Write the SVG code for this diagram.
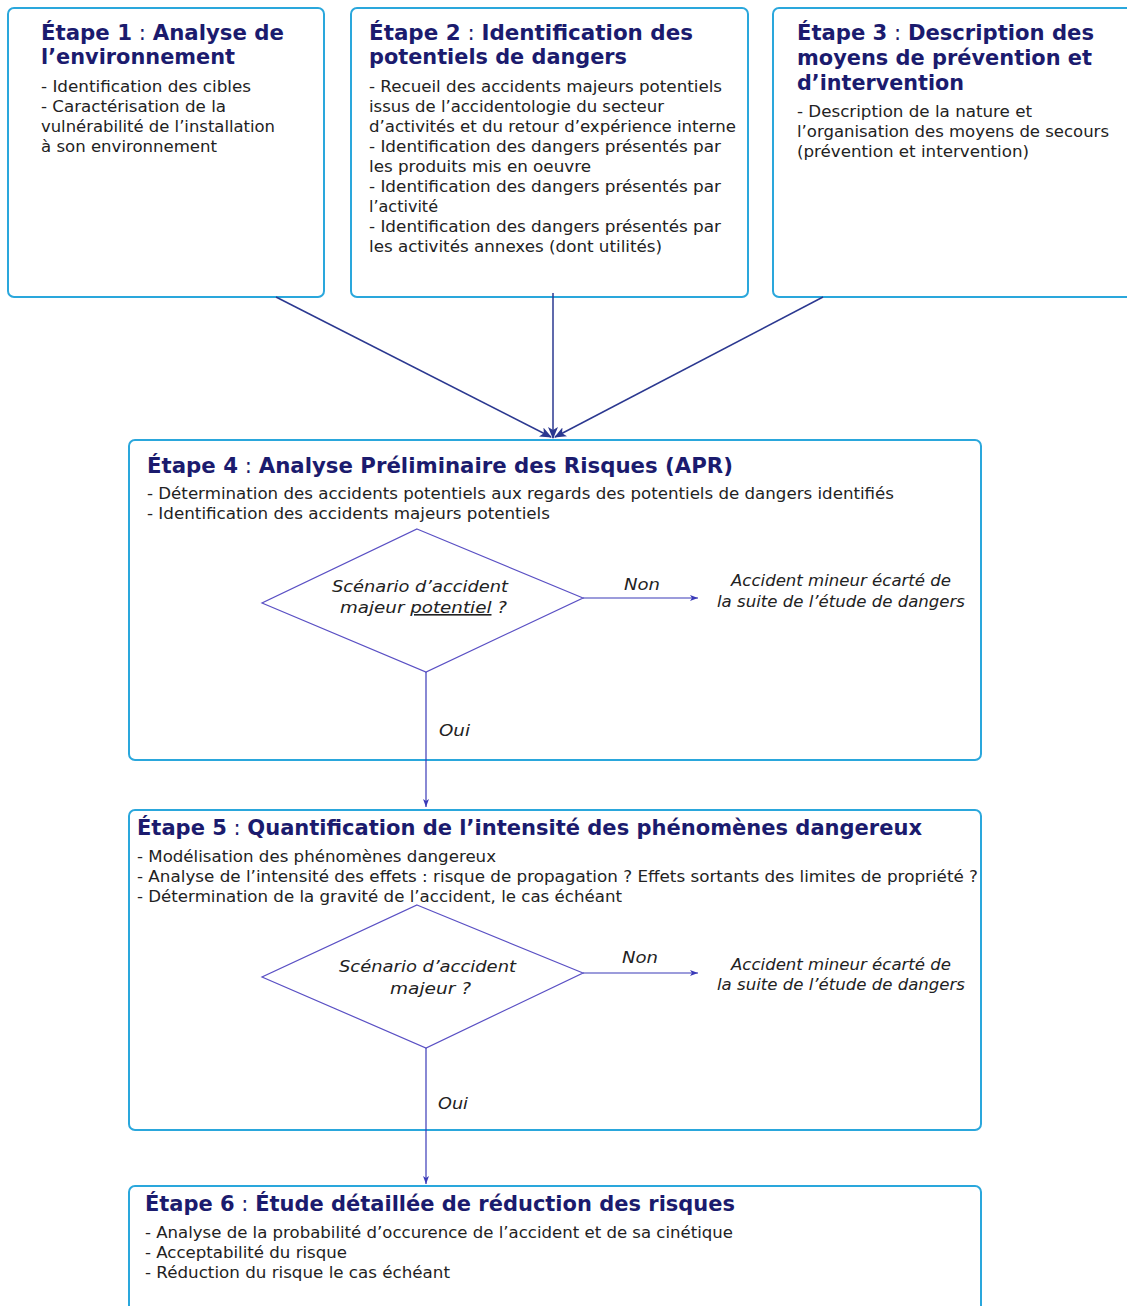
<svg xmlns="http://www.w3.org/2000/svg" width="1127" height="1306" viewBox="0 0 1127 1306">
<style>
.box{fill:#fff;stroke:#2aa7dc;stroke-width:2}
.t{font-family:"DejaVu Sans",Verdana,sans-serif;font-size:21px;font-weight:bold;fill:#1b1b6e}
.t .n{font-weight:normal}
.b{font-family:"DejaVu Sans",Verdana,sans-serif;font-size:16px;fill:#222}
.bc{font-size:16.5px}
.i{font-family:"DejaVu Sans",Verdana,sans-serif;font-size:16px;font-style:italic;fill:#222}
.dia{fill:none;stroke:#5a50c4;stroke-width:1.2}
.con{stroke:#2b3890;stroke-width:1.5;fill:none}
.con2{stroke:#3a3ab8;stroke-width:1.2;fill:none}
</style>
<defs>
<marker id="ah" viewBox="0 0 12 10" refX="11" refY="5" markerWidth="12" markerHeight="10" markerUnits="userSpaceOnUse" orient="auto">
<path d="M0,0 L12,5 L0,10 L3,5 z" fill="#2b3890"/>
</marker>
<marker id="sm" viewBox="0 0 8 6" refX="8" refY="3" markerWidth="8" markerHeight="6" markerUnits="userSpaceOnUse" orient="auto">
<path d="M0,0 L8,3 L0,6 L2,3 z" fill="#3a3ab8"/>
</marker>
</defs>
<rect width="1127" height="1306" fill="#fff"/>

<g id="etape1">
<rect class="box" x="8" y="8" width="316" height="289" rx="6"/>
<text class="t" x="41" y="40" textLength="243" lengthAdjust="spacingAndGlyphs">Étape 1<tspan class="n"> : </tspan>Analyse de</text>
<text class="t" x="41" y="64" textLength="194" lengthAdjust="spacingAndGlyphs">l’environnement</text>
<text class="b" x="41" y="92" textLength="210" lengthAdjust="spacingAndGlyphs">- Identification des cibles</text>
<text class="b" x="41" y="112" textLength="185" lengthAdjust="spacingAndGlyphs">- Caractérisation de la</text>
<text class="b" x="41" y="132" textLength="234" lengthAdjust="spacingAndGlyphs">vulnérabilité de l’installation</text>
<text class="b" x="41" y="152" textLength="176" lengthAdjust="spacingAndGlyphs">à son environnement</text>
</g>

<g id="etape2">
<rect class="box" x="351" y="8" width="397" height="289" rx="6"/>
<text class="t" x="369" y="40" textLength="324" lengthAdjust="spacingAndGlyphs">Étape 2<tspan class="n"> : </tspan>Identification des</text>
<text class="t" x="369" y="64" textLength="258" lengthAdjust="spacingAndGlyphs">potentiels de dangers</text>
<text class="b" x="369" y="92" textLength="353" lengthAdjust="spacingAndGlyphs">- Recueil des accidents majeurs potentiels</text>
<text class="b" x="369" y="112" textLength="295" lengthAdjust="spacingAndGlyphs">issus de l’accidentologie du secteur</text>
<text class="b" x="369" y="132" textLength="367" lengthAdjust="spacingAndGlyphs">d’activités et du retour d’expérience interne</text>
<text class="b" x="369" y="152" textLength="352" lengthAdjust="spacingAndGlyphs">- Identification des dangers présentés par</text>
<text class="b" x="369" y="172" textLength="222" lengthAdjust="spacingAndGlyphs">les produits mis en oeuvre</text>
<text class="b" x="369" y="192" textLength="352" lengthAdjust="spacingAndGlyphs">- Identification des dangers présentés par</text>
<text class="b" x="369" y="212" textLength="69" lengthAdjust="spacingAndGlyphs">l’activité</text>
<text class="b" x="369" y="232" textLength="352" lengthAdjust="spacingAndGlyphs">- Identification des dangers présentés par</text>
<text class="b" x="369" y="252" textLength="293" lengthAdjust="spacingAndGlyphs">les activités annexes (dont utilités)</text>
</g>

<g id="etape3">
<rect class="box" x="773" y="8" width="370" height="289" rx="6"/>
<text class="t" x="797" y="40" textLength="297" lengthAdjust="spacingAndGlyphs">Étape 3<tspan class="n"> : </tspan>Description des</text>
<text class="t" x="797" y="65" textLength="295" lengthAdjust="spacingAndGlyphs">moyens de prévention et</text>
<text class="t" x="797" y="90" textLength="167" lengthAdjust="spacingAndGlyphs">d’intervention</text>
<text class="b" x="797" y="117" textLength="235" lengthAdjust="spacingAndGlyphs">- Description de la nature et</text>
<text class="b" x="797" y="137" textLength="312" lengthAdjust="spacingAndGlyphs">l’organisation des moyens de secours</text>
<text class="b" x="797" y="157" textLength="232" lengthAdjust="spacingAndGlyphs">(prévention et intervention)</text>
</g>

<g id="etape4">
<rect class="box" x="129" y="440" width="852" height="320" rx="6"/>
<text class="t" x="147" y="473" textLength="586" lengthAdjust="spacingAndGlyphs">Étape 4<tspan class="n"> : </tspan>Analyse Préliminaire des Risques (APR)</text>
<text class="b" x="147" y="499" textLength="747" lengthAdjust="spacingAndGlyphs">- Détermination des accidents potentiels aux regards des potentiels de dangers identifiés</text>
<text class="b" x="147" y="519" textLength="403" lengthAdjust="spacingAndGlyphs">- Identification des accidents majeurs potentiels</text>
</g>

<g id="decision1">
<polygon class="dia" points="417,529 583,598 426,672 262,603"/>
<text class="i" x="332" y="592" textLength="176" lengthAdjust="spacingAndGlyphs">Scénario d’accident</text>
<text class="i" x="340" y="613" textLength="167" lengthAdjust="spacingAndGlyphs">majeur <tspan text-decoration="underline">potentiel</tspan> ?</text>
</g>

<g id="ecarte1">
<text class="i" x="731" y="586" textLength="220" lengthAdjust="spacingAndGlyphs">Accident mineur écarté de</text>
<text class="i" x="717" y="607" textLength="248" lengthAdjust="spacingAndGlyphs">la suite de l’étude de dangers</text>
</g>

<g id="etape5">
<rect class="box" x="129" y="810" width="852" height="320" rx="6"/>
<text class="t" x="137" y="835" textLength="785" lengthAdjust="spacingAndGlyphs">Étape 5<tspan class="n"> : </tspan>Quantification de l’intensité des phénomènes dangereux</text>
<text class="b bc" x="137" y="862" textLength="359" lengthAdjust="spacingAndGlyphs">- Modélisation des phénomènes dangereux</text>
<text class="b bc" x="137" y="882" textLength="841" lengthAdjust="spacingAndGlyphs">- Analyse de l’intensité des effets : risque de propagation ? Effets sortants des limites de propriété ?</text>
<text class="b bc" x="137" y="902" textLength="485" lengthAdjust="spacingAndGlyphs">- Détermination de la gravité de l’accident, le cas échéant</text>
</g>

<g id="decision2">
<polygon class="dia" points="417,905 583,973 426,1048 262,977"/>
<text class="i" x="339" y="972" textLength="177" lengthAdjust="spacingAndGlyphs">Scénario d’accident</text>
<text class="i" x="390" y="994" textLength="81" lengthAdjust="spacingAndGlyphs">majeur ?</text>
</g>

<g id="ecarte2">
<text class="i" x="731" y="970" textLength="220" lengthAdjust="spacingAndGlyphs">Accident mineur écarté de</text>
<text class="i" x="717" y="990" textLength="248" lengthAdjust="spacingAndGlyphs">la suite de l’étude de dangers</text>
</g>

<g id="etape6">
<rect class="box" x="129" y="1186" width="852" height="140" rx="6"/>
<text class="t" x="145" y="1211" textLength="590" lengthAdjust="spacingAndGlyphs">Étape 6<tspan class="n"> : </tspan>Étude détaillée de réduction des risques</text>
<text class="b bc" x="145" y="1238" textLength="588" lengthAdjust="spacingAndGlyphs">- Analyse de la probabilité d’occurence de l’accident et de sa cinétique</text>
<text class="b bc" x="145" y="1258" textLength="202" lengthAdjust="spacingAndGlyphs">- Acceptabilité du risque</text>
<text class="b bc" x="145" y="1278" textLength="305" lengthAdjust="spacingAndGlyphs">- Réduction du risque le cas échéant</text>
</g>

<g id="connectors">
<line class="con" x1="276" y1="297" x2="551" y2="437" marker-end="url(#ah)"/>
<line class="con" x1="553" y1="293" x2="553" y2="438" marker-end="url(#ah)"/>
<line class="con" x1="823" y1="297" x2="555" y2="437" marker-end="url(#ah)"/>
<line class="con2" x1="583" y1="598" x2="698" y2="598" marker-end="url(#sm)"/>
<line class="con2" x1="426" y1="672" x2="426" y2="807" marker-end="url(#sm)"/>
<line class="con2" x1="583" y1="973" x2="698" y2="973" marker-end="url(#sm)"/>
<line class="con2" x1="426" y1="1048" x2="426" y2="1184" marker-end="url(#sm)"/>
<text class="i" x="624" y="590" textLength="36" lengthAdjust="spacingAndGlyphs">Non</text>
<text class="i" x="439" y="736" textLength="31" lengthAdjust="spacingAndGlyphs">Oui</text>
<text class="i" x="622" y="963" textLength="36" lengthAdjust="spacingAndGlyphs">Non</text>
<text class="i" x="438" y="1109" textLength="30" lengthAdjust="spacingAndGlyphs">Oui</text>
</g>
</svg>
